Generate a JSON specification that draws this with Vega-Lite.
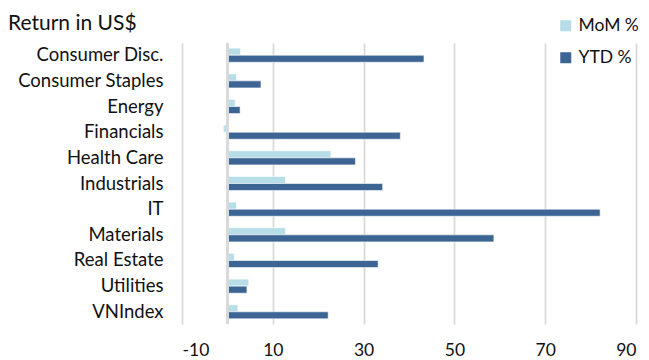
{
  "$schema": "https://vega.github.io/schema/vega-lite/v6.json",
  "autosize": {"type": "none"},
  "width": 454,
  "height": 281,
  "padding": {"left": 182, "top": 43, "right": 13, "bottom": 36},
  "background": "white",
  "config": {"view": {"stroke": null}, "font": "Lato"},
  "title": {"text": "Return in US$", "anchor": "start", "frame": "group", "dx": -174, "offset": 14, "dy": 31, "fontSize": 21, "fontWeight": "normal", "color": "#111111", "font": "Lato"},
  "data": {"values": [
    {"sector": "Consumer Disc.", "series": "MoM %", "value": 2.9},
    {"sector": "Consumer Disc.", "series": "YTD %", "value": 43.3},
    {"sector": "Consumer Staples", "series": "MoM %", "value": 2.0},
    {"sector": "Consumer Staples", "series": "YTD %", "value": 7.4},
    {"sector": "Energy", "series": "MoM %", "value": 1.7},
    {"sector": "Energy", "series": "YTD %", "value": 2.8},
    {"sector": "Financials", "series": "MoM %", "value": -0.9},
    {"sector": "Financials", "series": "YTD %", "value": 38.1},
    {"sector": "Health Care", "series": "MoM %", "value": 22.8},
    {"sector": "Health Care", "series": "YTD %", "value": 28.2},
    {"sector": "Industrials", "series": "MoM %", "value": 12.8},
    {"sector": "Industrials", "series": "YTD %", "value": 34.2},
    {"sector": "IT", "series": "MoM %", "value": 2.0},
    {"sector": "IT", "series": "YTD %", "value": 82.1},
    {"sector": "Materials", "series": "MoM %", "value": 12.8},
    {"sector": "Materials", "series": "YTD %", "value": 58.7},
    {"sector": "Real Estate", "series": "MoM %", "value": 1.5},
    {"sector": "Real Estate", "series": "YTD %", "value": 33.2},
    {"sector": "Utilities", "series": "MoM %", "value": 4.7},
    {"sector": "Utilities", "series": "YTD %", "value": 4.3},
    {"sector": "VNIndex", "series": "MoM %", "value": 2.3},
    {"sector": "VNIndex", "series": "YTD %", "value": 22.2}
  ]},
  "layer": [
    {
      "mark": {"type": "bar", "stroke": "#ffffff", "strokeWidth": 0.6},
      "encoding": {
        "y": {"field": "sector", "type": "nominal", "sort": null,
              "scale": {"paddingInner": 0.45, "paddingOuter": 0.2},
              "axis": {"title": null, "domain": false, "ticks": false, "labelPadding": 19, "labelFontSize": 18.5, "labelColor": "#111111", "labelFont": "Lato"}},
        "yOffset": {"field": "series", "type": "nominal", "sort": ["MoM %", "YTD %"]},
        "x": {"field": "value", "type": "quantitative",
              "scale": {"domain": [-10, 90], "nice": false, "zero": false},
              "axis": {"title": null, "values": [-10, 10, 30, 50, 70, 90], "domain": false, "ticks": false,
                       "grid": true, "gridColor": "#d9d9d9", "gridWidth": 1.8,
                       "labelExpr": "replace(datum.label, '\u2212', '-')",
                       "labelPadding": 17, "labelFontSize": 17.5, "labelColor": "#111111", "labelFont": "Lato"}},
        "color": {"field": "series", "type": "nominal",
                  "scale": {"domain": ["MoM %", "YTD %"], "range": ["#b7dee8", "#3d6593"]},
                  "legend": {"title": null, "orient": "none", "legendX": 375, "legendY": -26,
                             "symbolType": "square", "symbolSize": 121, "symbolStrokeWidth": 0,
                             "labelFontSize": 17.5, "labelColor": "#111111", "labelFont": "Lato",
                             "rowPadding": 13, "labelOffset": 4}}
      }
    },
    {
      "mark": {"type": "rule", "color": "#d9d9d9", "strokeWidth": 1.8},
      "encoding": {"x": {"datum": 0}}
    }
  ]
}
